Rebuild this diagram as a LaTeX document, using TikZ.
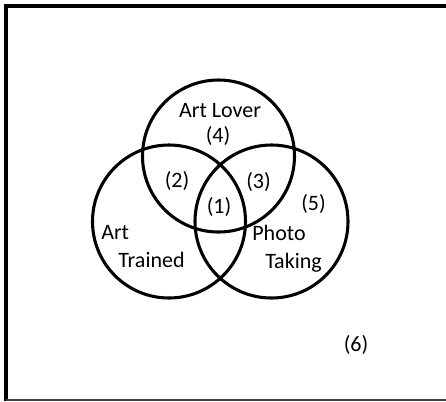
\documentclass[tikz,border=0pt]{standalone}
\usepackage{fontspec}
\setmainfont{Carlito}

\tikzset{
  ring/.style={line width=2.3pt},
  lbl/.style={anchor=base, inner sep=0pt, font=\fontsize{16.5}{19}\selectfont}
}

\begin{document}
\begin{tikzpicture}[x=0.75pt,y=-0.75pt]
  % Page
    \useasboundingbox (0,0) rectangle (446,401);
    \fill[white] (0,0) rectangle (446,401);

  % Frame
    \draw[line width=3pt, line join=miter] (6,401) -- (6,6) -- (446,6);
    \draw[black!75, line width=1.5pt] (6,399.5) -- (446,399.5);

  % Circle centres
    \coordinate (lover) at (218.5,156);
    \coordinate (trained) at (169,221.5);
    \coordinate (photo) at (271.5,221.5);

  % Circles
    \draw[ring] (lover) circle (76);
    \draw[ring] (trained) circle (76.5);
    \draw[ring] (photo) circle (76.5);

  % Set names
    \node[lbl] (loverName) at (220,117) {Art Lover};
    \node[lbl, anchor=base west] (trainedA) at (101,239) {Art};
    \node[lbl] (trainedB) at (151.5,267) {Trained};
    \node[lbl] (photoA) at (279,240) {Photo};
    \node[lbl] (photoB) at (293.5,268) {Taking};

  % Region numbers
    \node[lbl] (r1) at (219,213.5) {(1)};
    \node[lbl] (r2) at (177,187.5) {(2)};
    \node[lbl] (r3) at (258.5,188.5) {(3)};
    \node[lbl] (r4) at (218,142) {(4)};
    \node[lbl] (r5) at (313.5,210) {(5)};
    \node[lbl] (r6) at (356,351) {(6)};

\end{tikzpicture}
\end{document}
